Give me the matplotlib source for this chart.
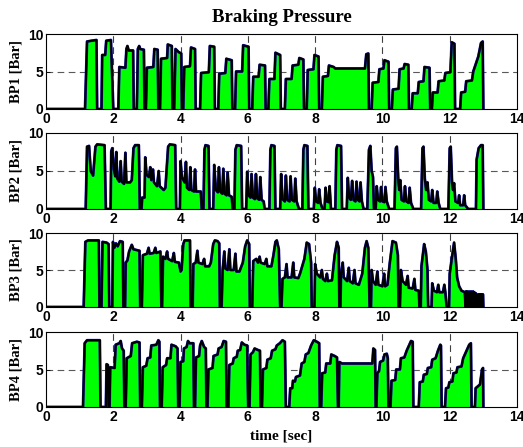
import matplotlib
matplotlib.use("Agg")
import matplotlib.pyplot as plt
import numpy as np

# ---- data: (time [s], pressure [bar]) breakpoints ----
bp1 = [(0,0),
 (1.16,0),(1.22,9.0),(1.35,9.1),(1.50,9.2),(1.52,0),
 (1.65,0),(1.67,7.2),(1.76,7.2),(1.79,9.1),(1.93,9.2),(2.0,0),
 (2.15,0),(2.18,5.6),(2.36,5.5),(2.39,8.0),(2.42,8.4),(2.46,7.8),(2.59,7.8),(2.61,0),
 (2.70,0),(2.73,8.0),(2.77,8.4),(2.80,8.0),(2.91,7.9),(2.93,0),
 (2.97,0),(3.00,5.5),(3.19,5.6),(3.22,8.0),(3.32,7.9),(3.34,0),
 (3.39,0),(3.42,6.7),(3.60,6.8),(3.62,8.6),(3.74,8.4),(3.76,0),
 (3.81,0),(3.85,8.0),(3.94,7.6),(4.02,7.4),(4.04,0),
 (4.08,0),(4.11,5.6),(4.28,5.7),(4.31,8.2),(4.43,8.0),(4.45,0),
 (4.58,0),(4.61,4.8),(4.84,4.9),(4.87,8.4),(5.0,8.3),(5.02,0),
 (5.12,0),(5.15,4.7),(5.33,4.8),(5.36,6.7),(5.52,6.5),(5.54,0),
 (5.62,0),(5.65,5.0),(5.83,5.0),(5.86,8.5),(6.02,8.3),(6.04,0),
 (6.13,0),(6.16,4.3),(6.32,4.3),(6.35,5.9),(6.51,5.8),(6.53,0),
 (6.61,0),(6.64,4.0),(6.79,4.0),(6.82,7.5),(6.96,7.2),(6.98,0),
 (7.10,0),(7.13,4.0),(7.30,4.0),(7.33,5.8),(7.50,5.9),(7.53,6.8),(7.65,6.6),(7.67,0),
 (7.75,0),(7.78,5.2),(7.95,5.3),(7.98,7.2),(8.10,7.0),(8.12,0),
 (8.20,0),(8.23,4.3),(8.38,4.4),(8.41,5.8),(8.55,5.6),(8.60,5.4),(9.48,5.4),(9.52,7.3),(9.58,7.4),(9.60,0),
 (9.68,0),(9.71,3.5),(9.88,3.6),(9.91,5.3),(10.03,5.4),(10.06,6.5),(10.18,6.3),(10.20,0),
 (10.28,0),(10.31,2.6),(10.48,2.7),(10.51,5.3),(10.63,5.4),(10.66,6.0),(10.77,5.9),(10.79,0),
 (10.87,0),(10.90,2.1),(11.05,2.1),(11.08,3.6),(11.22,3.7),(11.25,5.6),(11.40,5.5),(11.42,0),
 (11.47,0),(11.50,2.2),(11.64,2.2),(11.67,3.7),(11.84,3.8),(11.87,4.8),(12.02,4.9),(12.06,8.9),(12.14,8.7),(12.16,0),
 (12.31,0),(12.34,2.2),(12.46,2.3),(12.49,3.7),(12.66,3.8),(12.70,5.0),(12.85,7.0),(12.93,8.8),(12.98,9.0),(13.0,0)]

bp2 = [(0,0),
 (1.18,0),(1.22,8.2),(1.28,8.3),(1.33,5.0),(1.40,4.4),(1.47,8.2),(1.52,8.5),(1.74,8.4),(1.78,0),
 (1.92,0),(1.94,7.6),(1.97,8.0),(2.02,5.2),(2.06,4.3),(2.09,7.5),(2.12,4.0),(2.18,3.6),(2.22,6.3),(2.25,3.6),
 (2.32,3.3),(2.36,7.4),(2.39,3.5),(2.50,3.5),(2.55,3.8),(2.60,8.0),(2.65,8.4),(2.76,8.4),(2.79,0),
 (2.84,0),(2.86,1.5),(2.93,1.5),(2.95,6.8),(2.99,4.5),(3.06,4.2),(3.10,5.5),(3.13,3.8),(3.18,5.2),(3.21,3.5),
 (3.30,3.0),(3.35,5.0),(3.38,3.0),(3.50,2.5),(3.55,2.8),(3.63,8.2),(3.68,8.5),(3.84,8.4),(3.87,0),
 (3.98,0),(4.00,6.3),(4.04,4.2),(4.12,3.5),(4.16,6.2),(4.19,2.8),(4.26,2.5),(4.29,5.5),(4.32,2.5),(4.40,2.3),
 (4.43,5.2),(4.46,2.3),(4.60,2.3),(4.63,0),
 (4.68,0),(4.71,7.8),(4.74,8.4),(4.83,8.3),(4.86,0),
 (4.97,0),(5.00,5.8),(5.05,2.5),(5.11,2.2),(5.14,5.5),(5.18,2.3),(5.24,2.0),(5.27,5.3),(5.31,2.0),(5.37,1.8),
 (5.40,4.8),(5.44,1.8),(5.52,1.6),(5.55,0),
 (5.60,0),(5.63,7.8),(5.67,8.4),(5.80,8.3),(5.83,0),
 (5.95,0),(5.98,4.9),(6.02,1.8),(6.08,1.5),(6.11,4.6),(6.15,1.5),(6.21,1.3),(6.24,4.6),(6.28,1.4),(6.34,1.2),
 (6.37,4.2),(6.41,1.2),(6.47,1.0),(6.50,0),
 (6.64,0),(6.67,7.8),(6.70,8.4),(6.79,8.3),(6.82,0),
 (6.96,0),(6.99,4.6),(7.03,1.3),(7.10,1.0),(7.13,4.4),(7.17,1.2),(7.24,1.0),(7.27,4.3),(7.31,1.2),(7.38,1.0),
 (7.41,4.0),(7.45,1.0),(7.52,0),
 (7.62,0),(7.65,7.8),(7.68,8.4),(7.77,8.3),(7.80,0),
 (7.96,0),(7.99,2.8),(8.03,1.0),(8.09,0.8),(8.12,2.6),(8.16,0.8),(8.22,0),(8.28,0),(8.31,2.8),(8.35,1.0),
 (8.40,0.9),(8.43,3.0),(8.47,0),
 (8.60,0),(8.63,7.8),(8.66,8.4),(8.77,8.3),(8.80,0),
 (8.94,0),(8.97,4.1),(9.01,1.5),(9.06,1.2),(9.10,3.7),(9.14,1.2),(9.20,1.0),(9.23,3.6),(9.27,1.2),(9.32,1.0),
 (9.35,3.5),(9.39,1.0),(9.44,0),
 (9.55,0),(9.60,7.8),(9.64,8.3),(9.68,5.0),(9.72,4.2),(9.75,0),
 (9.80,0),(9.83,3.0),(9.87,1.2),(9.93,1.0),(9.96,2.9),(10.0,1.0),(10.06,0.9),(10.09,2.9),(10.13,1.0),(10.20,0),
 (10.36,0),(10.40,8.0),(10.43,8.2),(10.47,4.0),(10.50,2.5),(10.53,3.8),(10.57,1.2),(10.64,1.0),(10.67,3.0),
 (10.71,1.0),(10.78,0.8),(10.81,2.8),(10.85,0.8),(10.92,0),
 (11.15,0),(11.19,8.0),(11.22,8.2),(11.26,4.0),(11.30,2.5),(11.34,3.5),(11.38,1.2),(11.45,1.0),(11.48,2.5),
 (11.52,0.8),(11.60,0.8),(11.63,2.3),(11.67,0.8),(11.72,0),
 (11.96,0),(12.0,8.0),(12.03,8.2),(12.07,3.5),(12.10,2.5),(12.13,3.4),(12.17,1.0),(12.25,0.8),(12.28,1.8),
 (12.31,0.5),(12.40,0.5),(12.43,1.8),(12.46,0.5),(12.55,0),
 (12.78,0),(12.80,6.5),(12.86,8.0),(12.93,8.4),(12.98,8.4),(13.0,0)]

bp3 = [(0,0),
 (1.12,0),(1.17,8.8),(1.25,9.0),(1.57,9.0),(1.59,0),
 (1.65,0),(1.68,8.8),(1.80,8.7),(1.86,8.5),(1.88,0),
 (1.97,0),(1.99,8.8),(2.03,8.0),(2.08,8.6),(2.13,8.2),(2.20,8.9),(2.28,8.8),(2.30,0),
 (2.35,0),(2.37,6.0),(2.42,6.3),(2.47,7.5),(2.55,8.4),(2.60,7.8),(2.78,7.6),(2.80,0),
 (2.85,0),(2.88,7.0),(3.00,7.2),(3.05,8.0),(3.08,7.2),(3.20,7.3),(3.25,8.0),(3.28,7.3),(3.40,7.5),(3.43,0),
 (3.45,0),(3.48,6.8),(3.55,6.5),(3.60,7.5),(3.63,6.5),(3.75,6.2),(3.80,7.3),(3.83,6.1),(3.95,6.0),(4.0,4.8),
 (4.03,5.0),(4.08,8.5),(4.12,9.0),(4.28,9.0),(4.30,0),
 (4.36,0),(4.38,5.8),(4.45,6.0),(4.50,7.6),(4.53,6.0),(4.65,5.8),(4.70,6.5),(4.73,5.5),(4.85,5.5),(4.90,6.0),
 (4.97,8.5),(5.02,9.0),(5.10,8.9),(5.15,8.6),(5.17,0),
 (5.22,0),(5.25,5.0),(5.30,7.5),(5.33,5.2),(5.40,5.0),(5.45,7.8),(5.48,5.0),(5.58,5.0),(5.63,7.2),(5.66,4.8),
 (5.75,4.8),(5.85,6.0),(5.92,8.2),(5.98,9.0),(6.04,8.5),(6.06,0),
 (6.13,0),(6.16,6.2),(6.25,6.5),(6.30,6.0),(6.35,6.8),(6.38,6.0),(6.50,5.8),(6.55,6.5),(6.58,5.5),(6.70,5.5),
 (6.76,7.0),(6.82,8.8),(6.86,9.0),(6.92,7.8),(6.96,0),
 (7.0,0),(7.03,3.8),(7.10,4.0),(7.15,5.8),(7.18,4.0),(7.30,4.0),(7.35,6.0),(7.38,4.0),(7.50,3.9),(7.55,4.5),
 (7.68,6.5),(7.75,8.7),(7.82,8.5),(7.88,6.0),(7.90,0),
 (7.98,0),(8.0,5.8),(8.05,4.5),(8.15,4.0),(8.20,5.0),(8.23,3.8),(8.30,3.5),(8.35,4.5),(8.38,3.5),(8.50,3.6),
 (8.58,7.0),(8.65,8.8),(8.70,8.0),(8.72,0),
 (8.75,0),(8.77,4.5),(8.82,6.0),(8.85,4.0),(8.95,3.5),(9.0,5.3),(9.03,3.5),(9.12,3.2),(9.17,5.0),(9.20,3.2),
 (9.30,3.0),(9.40,4.5),(9.48,8.0),(9.53,8.9),(9.58,8.0),(9.62,0),
 (9.66,0),(9.68,5.0),(9.72,3.5),(9.80,3.0),(9.85,4.8),(9.88,3.0),(10.0,2.8),(10.05,4.5),(10.08,2.8),(10.15,3.0),
 (10.22,6.0),(10.30,8.9),(10.40,8.7),(10.46,7.0),(10.48,0),
 (10.52,0),(10.55,5.0),(10.60,3.5),(10.70,3.0),(10.75,4.2),(10.78,2.6),(10.90,2.5),(10.95,3.8),(10.98,2.3),
 (11.08,2.2),(11.10,0),
 (11.14,0),(11.16,5.5),(11.20,7.0),(11.24,8.5),(11.29,7.5),(11.34,5.0),(11.36,0),
 (11.46,0),(11.48,3.2),(11.53,2.2),(11.62,2.0),(11.66,3.0),(11.69,2.0),(11.80,2.0),(11.84,3.0),(11.87,2.0),(11.91,0),
 (11.98,0),(12.0,4.5),(12.06,6.5),(12.13,8.7),(12.18,6.5),(12.22,4.0),(12.28,2.8),(12.35,2.2),(12.45,2.0),(12.47,0),
 (12.485,2.1),(12.50,0),(12.515,2.1),(12.53,0),(12.545,2.0),(12.56,0),(12.575,2.1),(12.59,0),(12.605,2.0),
 (12.62,0),(12.635,2.1),(12.65,0),(12.665,2.0),(12.68,0),(12.695,2.1),(12.71,0),(12.725,2.0),(12.74,0),
 (12.755,1.9),(12.77,0),(12.785,1.8),(12.80,0),
 (12.84,0),(12.855,1.7),(12.87,0),(12.885,1.7),(12.90,0),(12.915,1.7),(12.93,0),(12.945,1.7),(12.96,0),
 (12.975,1.7),(12.99,1.7),(13.0,0)]

bp4 = [(0,0),
 (1.10,0),(1.15,8.5),(1.22,8.9),(1.60,8.9),(1.62,0),
 (1.78,0),(1.80,5.7),(1.84,5.6),(1.86,0),
 (1.89,0),(1.91,5.3),(2.04,5.2),(2.07,8.3),(2.18,8.5),(2.22,8.8),(2.26,7.8),(2.31,7.5),(2.33,0),
 (2.37,0),(2.40,6.5),(2.52,6.8),(2.56,8.5),(2.70,8.7),(2.78,8.6),(2.80,0),
 (2.85,0),(2.88,5.3),(2.98,5.5),(3.02,6.5),(3.10,6.6),(3.13,8.2),(3.28,8.3),(3.34,8.9),(3.37,8.7),(3.39,0),
 (3.44,0),(3.47,5.3),(3.57,5.6),(3.60,6.5),(3.70,6.5),(3.73,8.3),(3.85,8.1),(3.91,7.8),(3.93,0),
 (3.97,0),(4.00,6.0),(4.08,6.1),(4.10,7.8),(4.18,8.0),(4.22,8.8),(4.27,8.5),(4.38,8.5),(4.40,0),
 (4.43,0),(4.46,6.6),(4.55,6.8),(4.58,8.2),(4.63,8.8),(4.70,8.0),(4.75,7.8),(4.77,0),
 (4.80,0),(4.83,5.0),(4.95,5.2),(4.98,6.8),(5.10,7.0),(5.13,7.8),(5.22,8.0),(5.28,8.8),(5.35,8.7),(5.37,0),
 (5.42,0),(5.45,5.6),(5.55,5.8),(5.58,6.5),(5.67,6.7),(5.70,7.5),(5.77,7.6),(5.82,8.6),(5.90,8.3),(5.98,8.2),(6.01,0),
 (6.05,0),(6.08,7.0),(6.15,7.3),(6.20,7.8),(6.30,7.6),(6.36,7.5),(6.38,0),
 (6.42,0),(6.45,5.0),(6.55,5.2),(6.58,6.3),(6.68,6.5),(6.72,7.5),(6.82,7.7),(6.86,8.2),(6.95,8.5),(7.03,8.9),
 (7.10,8.7),(7.13,0),
 (7.23,0),(7.26,2.5),(7.32,2.5),(7.34,3.5),(7.40,3.4),(7.43,4.0),(7.55,4.2),(7.60,5.8),(7.68,6.0),(7.72,7.0),
 (7.80,7.2),(7.88,8.2),(7.96,8.9),(8.05,8.7),(8.12,8.5),(8.14,0),
 (8.18,0),(8.21,4.5),(8.30,4.6),(8.33,5.8),(8.45,5.8),(8.48,7.0),(8.58,6.8),(8.65,6.6),(8.68,0),
 (8.70,0),(8.72,6.0),(8.80,5.8),(9.70,5.8),(9.73,7.8),(9.78,7.6),(9.80,0),
 (9.82,0),(9.85,4.5),(9.90,4.8),(9.93,6.0),(10.02,6.2),(10.06,7.0),(10.13,7.1),(10.16,6.5),(10.18,0),
 (10.24,0),(10.27,3.5),(10.38,3.6),(10.41,5.0),(10.52,5.0),(10.55,6.5),(10.65,6.6),(10.72,7.5),(10.85,8.8),
 (10.90,8.7),(10.92,0),
 (11.08,0),(11.11,3.3),(11.20,3.4),(11.23,4.3),(11.32,4.4),(11.35,5.2),(11.45,5.3),(11.48,6.3),(11.58,6.5),
 (11.65,7.5),(11.72,8.3),(11.74,8.2),(11.76,0),
 (11.86,0),(11.89,2.5),(11.96,2.6),(11.99,3.3),(12.08,3.4),(12.11,4.5),(12.20,4.6),(12.23,5.3),(12.35,5.4),
 (12.40,6.5),(12.50,7.5),(12.58,8.3),(12.63,8.5),(12.65,0),
 (12.75,0),(12.77,2.5),(12.85,2.8),(12.90,3.0),(12.96,5.0),(12.99,5.2),(13.0,0)]

channels = [bp1, bp2, bp3, bp4]
ylabels = ["BP1 [Bar]", "BP2 [Bar]", "BP3 [Bar]", "BP4 [Bar]"]
xticks = [0, 2, 4, 6, 8, 10, 12, 14]
yticks = [0, 5, 10]

W, H = 523, 447
fig = plt.figure(figsize=(W/100, H/100), dpi=100)
# axes boxes in pixels: (top, bottom)
boxes = [(34, 109), (133, 209), (233, 307), (332, 407)]
left_px, right_px = 46, 517

serif = ["Liberation Serif", "DejaVu Serif"]
sans = ["Liberation Sans", "DejaVu Sans"]

for data, lab, (top, bot) in zip(channels, ylabels, boxes):
    ax = fig.add_axes([left_px/W, 1-bot/H, (right_px-left_px)/W, (bot-top)/H])
    arr = np.array(data, dtype=float)
    t, v = arr[:, 0], arr[:, 1]
    ax.fill_between(t, 0, v, color="#00ff00", linewidth=0, zorder=2)
    ax.plot(t, v, color="#2020d0", lw=2.0, zorder=3, solid_joinstyle="round")
    ax.plot(t, v, color="black", lw=1.6, zorder=4, solid_joinstyle="round")
    ax.set_xlim(0, 14)
    ax.set_ylim(0, 10)
    ax.set_xticks(xticks)
    ax.set_yticks(yticks)
    for x in xticks[1:-1]:
        ax.axvline(x, color="0.25", lw=0.8, ls=(0, (6, 4)), zorder=1)
    ax.axhline(5, color="0.35", lw=0.8, ls=(0, (6, 4)), zorder=1)
    ax.tick_params(direction="in", length=3, width=0.6, pad=2)
    for lbl in ax.get_xticklabels() + ax.get_yticklabels():
        lbl.set_fontfamily(sans)
        lbl.set_fontweight("bold")
        lbl.set_fontsize(10)
    for s in ax.spines.values():
        s.set_linewidth(0.8)
        s.set_color("black")
        s.set_zorder(5)
    ax.set_ylabel(lab, fontfamily=serif, fontweight="bold", fontsize=10.5)
    ax.yaxis.set_label_coords(-0.05, 0.5)

fig.text((left_px+right_px)/2/W, 1-17/H, "Braking Pressure", ha="center", va="center",
         fontfamily=serif, fontweight="bold", fontsize=13.5)
fig.text((left_px+right_px)/2/W, 1-436/H, "time [sec]", ha="center", va="center",
         fontfamily=serif, fontweight="bold", fontsize=11)

fig.savefig("out.png", dpi=100)
